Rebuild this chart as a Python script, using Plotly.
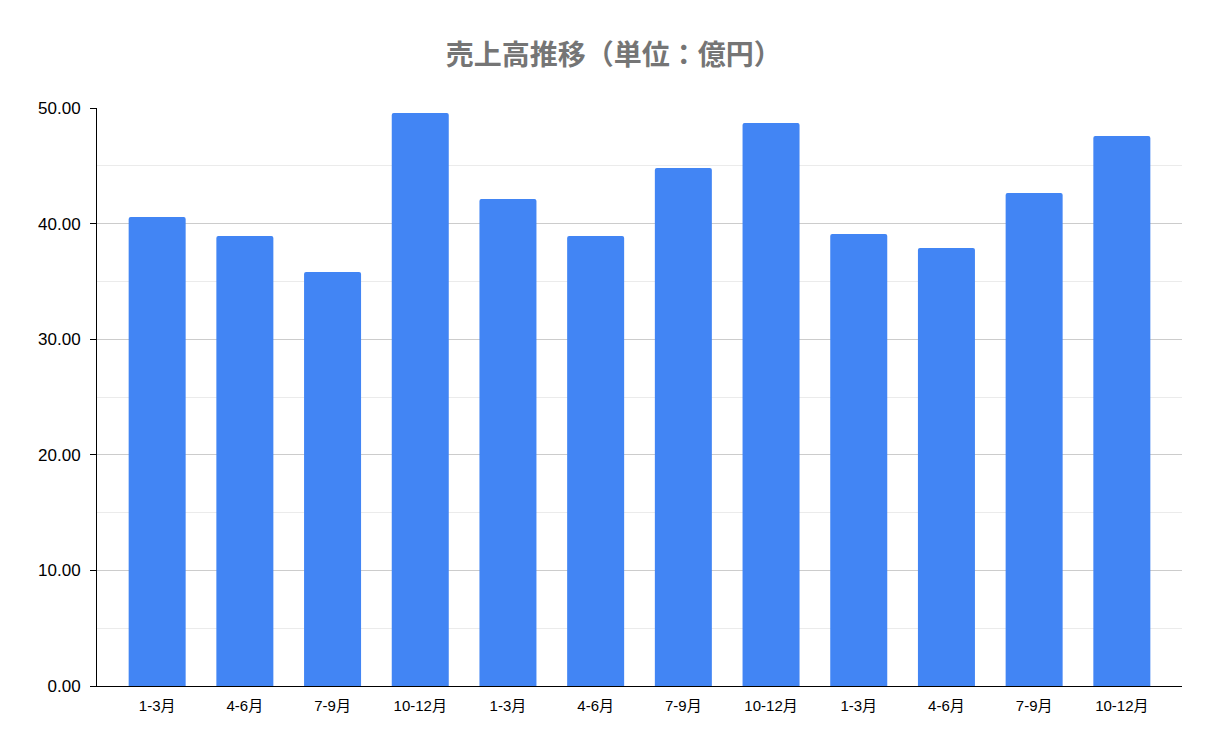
import plotly.graph_objects as go

quarters = ["1-3月", "4-6月", "7-9月", "10-12月", "1-3月", "4-6月", "7-9月", "10-12月",
            "1-3月", "4-6月", "7-9月", "10-12月"]
sales = [40.57, 38.93, 35.81, 49.57, 42.13, 38.93, 44.81, 48.70, 39.10, 37.89, 42.65, 47.58]
y_ticks = [0, 10, 20, 30, 40, 50]

positions = list(range(len(quarters)))

fig = go.Figure(go.Bar(
    x=positions, y=sales, width=0.65,
    marker=dict(color="#4285F4", line=dict(width=0), cornerradius=2),
    hoverinfo="y",
))

font_family = "'Liberation Sans', Arial, 'Noto Sans CJK JP', sans-serif"

fig.update_layout(
    width=1219, height=754,
    margin=dict(l=89, r=45, t=100, b=76),
    paper_bgcolor="white", plot_bgcolor="white",
    showlegend=False,
    title=dict(text="<b>売上高推移（単位：億円）</b>", x=0.497, xanchor="center", y=0.937, yanchor="middle",
               font=dict(family="'Noto Sans CJK JP', sans-serif", size=28, color="#757575")),
    font=dict(family=font_family, size=14, color="#000000"),
)
fig.update_xaxes(
    tickmode="array", tickvals=positions, ticktext=quarters,
    range=[-0.686, 11.686], showgrid=False, zeroline=False,
    showline=True, linecolor="#000000", linewidth=1, ticks="",
    ticklabelstandoff=6,
    tickfont=dict(family=font_family, size=15, color="#000000"),
)
fig.update_yaxes(
    range=[0, 50], tickvals=y_ticks, tickformat=".2f",
    showgrid=True, gridcolor="#cccccc", gridwidth=1, zeroline=False,
    showline=True, linecolor="#000000", linewidth=1,
    ticks="outside", ticklen=6, tickcolor="#000000",
    ticklabelstandoff=6,
    minor=dict(tickvals=[5, 15, 25, 35, 45], showgrid=True, gridcolor="#ebebeb", ticks=""),
    tickfont=dict(family=font_family, size=17, color="#000000"),
)

fig.write_html("out.html")
